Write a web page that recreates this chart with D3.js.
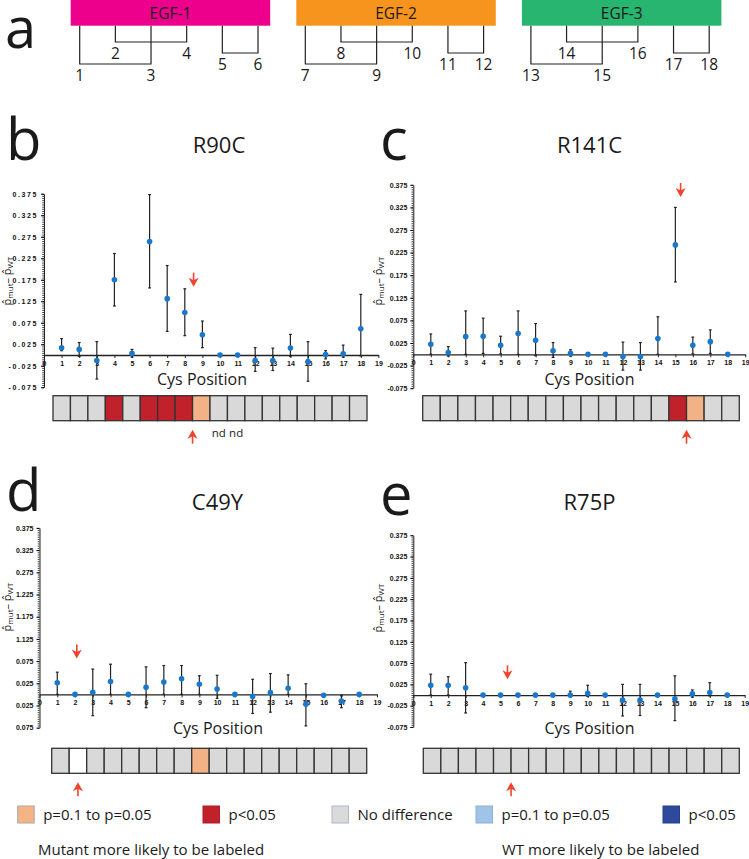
<!DOCTYPE html>
<html>
<head>
<meta charset="utf-8">
<script src="https://cdn.jsdelivr.net/npm/d3@7"></script>
<style>
body { margin: 0; background: #fff; }
svg { display: block; }
text { font-family: "Open Sans", "Noto Sans", sans-serif; fill: #1a1a1a; }
.tick text { font-family: "Liberation Sans", Arial, sans-serif; font-weight: bold; font-size: 7px; fill: #111; }
</style>
</head>
<body>
<svg id="chart" width="749" height="859"></svg>
<script>
var svg = d3.select("#chart");

// ---- data ----
var cysPositions = d3.range(1, 19);
var xTickValues = d3.range(0, 20);
var yTickValues = [0.375, 0.325, 0.275, 0.225, 0.175, 0.125, 0.075, 0.025, -0.025, -0.075];
var yTickLabels = ["0.375", "0.325", "0.275", "0.225", "0.175", "0.125", "0.075", "0.025", "-0.025", "-0.075"];
var yTickLabelsC49Y = ["0.375", "0.325", "0.275", "1.225", "1.175", "1.125", "0.075", "0.025", "0.025", "0.075"];
var yMinorValues = d3.range(-75, 380, 5).map(function(v) { return v / 1000; });

var egfDomains = ["EGF-1", "EGF-2", "EGF-3"];
var egfColors = ["#ec008c", "#f7941d", "#27b56f"];
var bondPairs = [[1, 3], [2, 4], [5, 6]];
var bondLevel = [2, 1, 1.5];

var r90cMean = [0.017, 0.013, -0.013, 0.175, 0.004, 0.264, 0.131, 0.099, 0.047, 0, 0, -0.013, -0.013, 0.016, -0.015, 0.001, 0.003, 0.061];
var r90cLow  = [0.010, -0.003, -0.056, 0.114, -0.005, 0.156, 0.055, 0.045, 0.017, 0, 0, -0.038, -0.036, -0.003, -0.061, -0.009, -0.005, -0.002];
var r90cHigh = [0.038, 0.029, 0.031, 0.236, 0.013, 0.373, 0.208, 0.154, 0.079, 0, 0, 0.017, 0.016, 0.048, 0.031, 0.010, 0.023, 0.141];
var r90cCells = ["g","g","g","r","g","r","r","r","o","g","g","g","g","g","g","g","g","g"];

var r141cMean = [0.022, 0.004, 0.039, 0.040, 0.020, 0.046, 0.031, 0.008, 0.002, 0, 0, -0.005, -0.005, 0.035, 0.242, 0.020, 0.028, 0];
var r141cLow  = [0.000, -0.004, 0.000, 0.002, 0.001, 0.000, -0.003, -0.007, -0.004, 0, 0, -0.035, -0.035, 0.000, 0.160, 0.001, 0.002, 0];
var r141cHigh = [0.045, 0.017, 0.096, 0.080, 0.040, 0.096, 0.068, 0.026, 0.010, 0, 0, 0.027, 0.026, 0.083, 0.325, 0.038, 0.054, 0];
var r141cCells = ["g","g","g","g","g","g","g","g","g","g","g","g","g","g","r","o","g","g"];

var c49yMean = [0.026, 0, 0.005, 0.029, 0, 0.016, 0.028, 0.035, 0.023, 0.012, 0, -0.005, 0.004, 0.014, -0.022, -0.002, -0.015, 0];
var c49yLow  = [0.000, 0, -0.048, 0.000, 0, -0.030, 0.000, 0.000, 0.000, -0.009, 0, -0.043, -0.040, 0.000, -0.071, -0.002, -0.030, 0];
var c49yHigh = [0.050, 0, 0.057, 0.068, 0, 0.062, 0.065, 0.065, 0.042, 0.043, 0, 0.034, 0.047, 0.044, 0.024, -0.002, -0.003, 0];
var c49yCells = ["g","w","g","g","g","g","g","g","o","g","g","g","g","g","g","g","g","g"];

var r75pMean = [0.023, 0.023, 0.017, 0, 0, 0, 0, 0, 0, 0.004, 0, -0.012, -0.012, 0, -0.009, 0.003, 0.006, 0];
var r75pLow  = [0.000, 0.000, -0.042, 0, 0, 0, 0, 0, -0.004, -0.003, 0, -0.049, -0.048, 0, -0.060, -0.005, -0.002, 0];
var r75pHigh = [0.049, 0.043, 0.076, 0, 0, 0, 0, 0, 0.009, 0.023, 0, 0.025, 0.025, 0, 0.045, 0.012, 0.029, 0];
var r75pCells = ["g","g","g","g","g","g","g","g","g","g","g","g","g","g","g","g","g","g"];

var cellColors = { g: "#d9d9d9", r: "#c1212b", o: "#f3b286", w: "#ffffff" };

var legendLabels = ["p=0.1 to p=0.05", "p<0.05", "No difference", "p=0.1 to p=0.05", "p<0.05"];
var legendColors = ["#f5b486", "#c1212b", "#dadada", "#9fc4e7", "#2d4a9d"];
var legendBorders = ["#a9a9a9", "#b01e26", "#a9b8cc", "#8fb0d0", "#24408c"];

// ---- layout ----
var panels = [
  { letter: "b", title: "R90C", mean: r90cMean, low: r90cLow, high: r90cHigh, cells: r90cCells, yLabels: yTickLabels,
    x0: 44, dx: 17.6, yTop: 193.75, yBot: 387.25, labelSpacing: 1.6,
    heatL: 53, heatR: 367, heatY: 395.7, letterX: 6, letterY: 160, titleX: 219, titleY: 153,
    cysX: 202, cysY: 385, yTitleX: 11, yTitleY: 281,
    downPos: 8.5, downVal: 0.159, upCell: 8.5, nd: [10, 11] },
  { letter: "c", title: "R141C", mean: r141cMean, low: r141cLow, high: r141cHigh, cells: r141cCells, yLabels: yTickLabels,
    x0: 413.3, dx: 17.47, yTop: 184.8, yBot: 388.2, labelSpacing: 0,
    heatL: 422.7, heatR: 739.3, heatY: 395.7, letterX: 380, letterY: 160, titleX: 589.5, titleY: 153,
    cysX: 589.5, cysY: 385, yTitleX: 382, yTitleY: 281,
    downPos: 15.3, downVal: 0.348, upCell: 15.5, nd: [] },
  { letter: "d", title: "C49Y", mean: c49yMean, low: c49yLow, high: c49yHigh, cells: c49yCells, yLabels: yTickLabelsC49Y,
    x0: 39.5, dx: 17.76, yTop: 527.9, yBot: 727.7, labelSpacing: 0,
    heatL: 51.7, heatR: 366.7, heatY: 748.3, letterX: 6, letterY: 511, titleX: 217.5, titleY: 510,
    cysX: 218, cysY: 734, yTitleX: 11, yTitleY: 607,
    downPos: 2.1, downVal: 0.081, upCell: 2, nd: [] },
  { letter: "e", title: "R75P", mean: r75pMean, low: r75pLow, high: r75pHigh, cells: r75pCells, yLabels: yTickLabels,
    x0: 413.3, dx: 17.44, yTop: 535.25, yBot: 727, labelSpacing: 0,
    heatL: 423.3, heatR: 739.3, heatY: 748.3, letterX: 380, letterY: 515, titleX: 589.5, titleY: 510,
    cysX: 589.5, cysY: 734, yTitleX: 382, yTitleY: 608,
    downPos: 5.4, downVal: 0.037, upCell: 5.5, nd: [] }
];

var arrowRed = "#f0432c";

function drawArrow(g, x, tipY, dir) {
  // dir = 1 points down, -1 points up
  var len = 14;
  g.append("line")
    .attr("x1", x).attr("x2", x)
    .attr("y1", tipY - dir * len).attr("y2", tipY - dir * 6)
    .attr("stroke", arrowRed).attr("stroke-width", 1.6);
  g.append("path")
    .attr("d", "M" + x + "," + tipY +
      "L" + (x - 5) + "," + (tipY - dir * 9) +
      "L" + x + "," + (tipY - dir * 6.5) +
      "L" + (x + 5) + "," + (tipY - dir * 9) + "Z")
    .attr("fill", arrowRed);
}

// ---- panel a ----
function drawDomains() {
  var g = svg.append("g");
  var band = d3.scaleBand().domain(egfDomains).range([70.7, 721.4]).paddingInner(0.1157);
  var local = d3.scaleLinear().domain([1, 6]).range([9, 187.3]);
  var levelY = d3.scaleLinear().domain([1, 2]).range([42, 64]);
  var barH = 25.7;

  g.append("text").attr("x", 5).attr("y", 48).attr("font-size", 56).text("a");

  egfDomains.forEach(function(name, di) {
    var bx = band(name);
    g.append("rect").attr("x", bx).attr("y", 0).attr("width", band.bandwidth()).attr("height", barH)
      .attr("fill", egfColors[di]);
    g.append("text").attr("x", bx + band.bandwidth() / 2).attr("y", 18.8)
      .attr("text-anchor", "middle").attr("font-size", 15.5).text(name);

    bondPairs.forEach(function(pair, bi) {
      var x1 = bx + local(pair[0]), x2 = bx + local(pair[1]), yy = levelY(bondLevel[bi]);
      g.append("path")
        .attr("d", "M" + x1 + "," + barH + "V" + yy + "H" + x2 + "V" + barH)
        .attr("fill", "none").attr("stroke", "#222").attr("stroke-width", 1.2);
      pair.forEach(function(c) {
        g.append("text").attr("x", bx + local(c)).attr("y", yy + 17)
          .attr("text-anchor", "middle").attr("font-size", 15.5)
          .text(di * 6 + c);
      });
    });
  });
}

// ---- panels b-e ----
function drawPanel(p) {
  var g = svg.append("g");
  var x = d3.scaleLinear().domain([0, 19]).range([p.x0, p.x0 + 19 * p.dx]);
  var y = d3.scaleLinear().domain([-0.075, 0.375]).range([p.yBot, p.yTop]);

  g.append("text").attr("x", p.letterX).attr("y", p.letterY).attr("font-size", 58).text(p.letter);
  g.append("text").attr("x", p.titleX).attr("y", p.titleY).attr("text-anchor", "middle")
    .attr("font-size", 22).text(p.title);

  // y title
  var yt = g.append("text")
    .attr("transform", "translate(" + p.yTitleX + "," + p.yTitleY + ") rotate(-90)")
    .attr("text-anchor", "middle").attr("font-size", 11).attr("font-family", "DejaVu Sans, sans-serif");
  yt.append("tspan").text("p\u0302");
  yt.append("tspan").attr("font-size", 8).attr("dy", 2).text("mut");
  yt.append("tspan").attr("dy", -2).text("\u2013 p\u0302");
  yt.append("tspan").attr("font-size", 8).attr("dy", 2).text("WT");

  // y minor ticks
  g.append("g").attr("transform", "translate(" + p.x0 + ",0)")
    .call(d3.axisLeft(y).tickValues(yMinorValues).tickSize(1.8).tickFormat(""))
    .call(function(s) { s.select(".domain").remove(); s.selectAll("line").attr("stroke", "#444"); });

  // y major axis
  var ya = g.append("g").attr("transform", "translate(" + p.x0 + ",0)")
    .call(d3.axisLeft(y).tickValues(yTickValues).tickSize(3).tickSizeOuter(0).tickPadding(3)
      .tickFormat(function(d, i) { return p.yLabels[i]; }));
  ya.select(".domain").attr("stroke", "#222").attr("stroke-width", 1);
  ya.selectAll(".tick text").attr("letter-spacing", p.labelSpacing);

  // x axis at zero
  var xa = g.append("g").attr("transform", "translate(0," + y(0) + ")")
    .call(d3.axisBottom(x).tickValues(xTickValues).tickSize(3).tickSizeOuter(0).tickPadding(3));
  xa.select(".domain").attr("stroke", "#222").attr("stroke-width", 1.3);
  xa.selectAll(".tick line").attr("stroke", "#222");

  g.append("text").attr("x", p.cysX).attr("y", p.cysY).attr("text-anchor", "middle")
    .attr("font-size", 16).text("Cys Position");

  // error bars
  var eb = g.append("g").attr("stroke", "#222").attr("stroke-width", 1.2);
  cysPositions.forEach(function(c, i) {
    if (p.high[i] === p.low[i]) return;
    var cx = x(c);
    eb.append("line").attr("x1", cx).attr("x2", cx).attr("y1", y(p.low[i])).attr("y2", y(p.high[i]));
    eb.append("line").attr("x1", cx - 1.4).attr("x2", cx + 1.4).attr("y1", y(p.low[i])).attr("y2", y(p.low[i]));
    eb.append("line").attr("x1", cx - 1.4).attr("x2", cx + 1.4).attr("y1", y(p.high[i])).attr("y2", y(p.high[i]));
  });

  g.selectAll("circle.pt").data(cysPositions).enter().append("circle")
    .attr("class", "pt")
    .attr("cx", function(d) { return x(d); })
    .attr("cy", function(d, i) { return y(p.mean[i]); })
    .attr("r", 2.8)
    .attr("fill", "#1a78cc");

  drawArrow(g, x(p.downPos), y(p.downVal), 1);

  // heat strip
  var hx = d3.scaleLinear().domain([0.5, 18.5]).range([p.heatL, p.heatR]);
  var cellH = 25;
  g.selectAll("rect.cell").data(cysPositions).enter().append("rect")
    .attr("class", "cell")
    .attr("x", function(d) { return hx(d - 0.5); })
    .attr("y", p.heatY)
    .attr("width", hx(1.5) - hx(0.5))
    .attr("height", cellH)
    .attr("fill", function(d, i) { return cellColors[p.cells[i]]; })
    .attr("stroke", "#333").attr("stroke-width", 1.3);

  drawArrow(g, hx(p.upCell), p.heatY + cellH + 9, -1);

  p.nd.forEach(function(c) {
    g.append("text").attr("x", hx(c)).attr("y", p.heatY + cellH + 16).attr("text-anchor", "middle")
      .attr("font-size", 11.5).text("nd");
  });
}

function drawLegend() {
  var g = svg.append("g");
  var legendX = [17.7, 203, 332, 476, 663];
  legendLabels.forEach(function(lab, i) {
    g.append("rect").attr("x", legendX[i]).attr("y", 806).attr("width", 16.5).attr("height", 17)
      .attr("fill", legendColors[i]).attr("stroke", legendBorders[i]).attr("stroke-width", 1);
    g.append("text").attr("x", legendX[i] + 25.5).attr("y", 820).attr("font-size", 15).text(lab);
  });
  g.append("text").attr("x", 38).attr("y", 855).attr("font-size", 15).text("Mutant more likely to be labeled");
  g.append("text").attr("x", 502).attr("y", 855).attr("font-size", 15).text("WT more likely to be labeled");
}

drawDomains();
panels.forEach(drawPanel);
drawLegend();
</script>
</body>
</html>
